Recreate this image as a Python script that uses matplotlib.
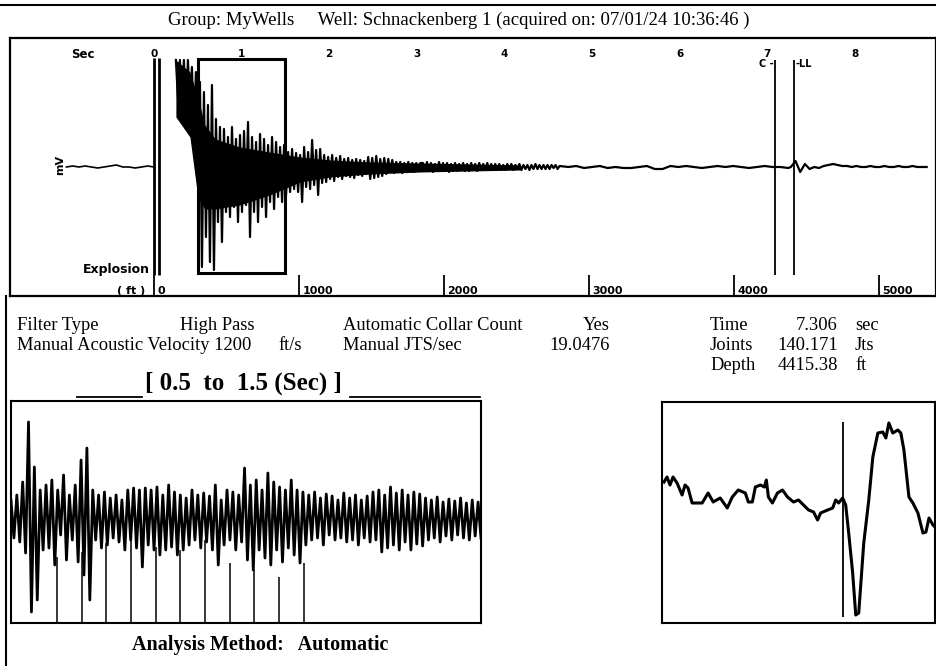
import numpy as np
import matplotlib
matplotlib.use("Agg")
import matplotlib.pyplot as plt
from matplotlib.patches import Rectangle

W, H = 937, 666

# --- shot record (time in sec, amplitude in display units) ---
pre_span = (-1.0, 0.0)
pre_amp = [0, 1, 0, 1, 0, -1, 0, 1, 2, 0, 0, -1, 0, 1, 0]

burst_span = (0.25, 3.04)
burst_amp = [
    107, 70, 107, 62, 107, 48, 107, 55, 100, 28,
    95, 20, 85, -100, 75, -70, 62, -95, 82, -103,
    48, -55, 40, -75, 38, -45, 30, -50, 40, -40,
    28, -55, 32, -45, 36, -38, 45, -70, 30, -45,
    25, -55, 33, -40, 28, -50, 22, -35, 30, -42,
    25, -30, 20, -35, 22, -28, 15, -25, 18, -22,
    14, -25, 12, -35, 20, -20, 15, -22, 27, -18,
    17, -28, 18, -16, 12, -15, 10, -12, 12, -14,
    9, -10, 11, -12, 8, -9, 9, -10, 7, -11,
    8, -8, 7, -9, 6, -7, 10, -12, 9, -11,
    11, -10, 8, -9, 9, -7, 8, -5, 7, -6,
    5, -5, 5, -6, 4, -5, 5, -4, 4, -5,
    4, -4, 4,
]
tail_span = (3.07, 4.63)
tail_amp = [
    4, -4, 5, -3, 4, -5, 3, -4, 5, -4, 4, -3, 4, -5, 3, -4, 4, -4, 3, -3,
    4, -4, 3, -4, 4, -3, 3, -4, 4, -3, 3, -3, 4, -3, 3, -3, 3, -2, 3, -3,
    2, -3, 3, -2, 3, -3, 2, -2, 3, -3, 2, -2, 2, -3, 2, -2, 3, -2, 2, -2,
    2, -2, 2, -2, 2, -1, 2, -2, 1,
]
quiet_span = (4.73, 7.24)
quiet_amp = [0, 1, -1, 0, 1, -1, 0, -1, -1, 0, 1, -2, -2, 1, 0, 1, 0, -1,
             0, 1, 0, 1, 0, -1, 0, 1, 0, 0, -1]
end_span = (7.27, 8.82)
end_amp = [0, 6, -5, 3, -2, 0, -1, 1, 2, 3, 2, 1, 1, 0, 1, 0, 0, 1, 0, 0,
           1, 0, 0, 1, 0, 0, 1, 0, 0, 0]

# dense (solid ink) part of the burst: time, upper and lower edge
core_t = [0.25, 0.41, 0.50, 0.58, 0.70, 0.98, 1.32, 1.67, 2.01, 2.47, 3.04, 3.61, 4.18]
core_hi = [107, 95, 70, 42, 28, 20, 15, 10, 7, 5, 4, 3, 2]
core_lo = [50, 30, -30, -42, -42, -38, -28, -15, -10, -7, -5, -4, -3]

sec_ticks = [0, 1, 2, 3, 4, 5, 6, 7, 8]
ft_ticks = [0, 1000, 2000, 3000, 4000, 5000]
explosion_lines = [0.0, 0.055]
window = (0.5, 1.5)

# --- results ---
filter_type = "High Pass"
velocity = 1200
collar_count = "Yes"
jts_per_sec = 19.0476
ll_time = 7.306
collar_time = 7.09
joints = 140.171
depth = 4415.38
ft_per_sec = depth / ll_time

# --- zoom window 0.5 - 1.5 sec ---
zoom_amp = [
    20, -18, 25, -22, 38, -33,
    98, -92, 53, -80,
    30, -30, 35, -28,
    40, -45, 30, -15, 45, -40, 25, -20, 35, -42, 60, -55, 72, -80,
    30, -20, 25, -28, 28, -25, 22, -18, 25, -22, 20, -30,
    30, -20, 32, -28, 30, -47, 32, -25, 30, -30,
    33, -35, 25, -30, 35, -27, 28, -35, 25, -30,
    22, -25, 30, -20, 25, -28, 27, -22, 24, -30,
    35, -45, 20, -25, 30, -20, 28, -30, 25, -22,
    52, -40, 35, -50, 40, -30, 30, -38, 47, -45,
    38, -30, 33, -42, 30, -28, 40, -35, 30, -43, 28, -25,
    25, -20, 28, -18, 22, -25, 26, -15, 24, -20, 20, -18,
    27, -22, 22, -20, 25, -25, 20, -18, 24, -22, 28, -20,
    30, -32, 25, -28, 33, -25, 27, -30, 30, -22, 25, -30, 28, -24, 26, -26,
    22, -20, 20, -18, 23, -22, 18, -16, 21, -20, 19, -15, 22, -18, 17, -20,
    20, -16, 18, -18,
]
collar_t = [0.598, 0.650, 0.703, 0.755, 0.808, 0.860, 0.913, 0.965, 1.018, 1.070, 1.123]
collar_top = [-37, -32, -23, -13, -27, -30, -20, -43, -50, -57, -43]

# --- liquid level close-up ---
ll_t = [7.1023, 7.1057, 7.1091, 7.1125, 7.1171, 7.1228, 7.1262, 7.1296, 7.1342, 7.1456,
        7.1524, 7.1581, 7.1661, 7.1741, 7.1798, 7.1866, 7.1946, 7.1980, 7.2026, 7.2060,
        7.2117, 7.2162, 7.2185, 7.2208, 7.2254, 7.2311, 7.2368, 7.2425, 7.2493, 7.2550,
        7.2607, 7.2664, 7.2721, 7.2767, 7.2801, 7.2881, 7.2938, 7.2972, 7.3006, 7.3051,
        7.3086, 7.3120, 7.3165, 7.3200, 7.3234, 7.3291, 7.3348, 7.3394, 7.3451, 7.3507,
        7.3542, 7.3576, 7.3621, 7.3678, 7.3712, 7.3747, 7.3804, 7.3849, 7.3906, 7.3963,
        7.3997, 7.4032, 7.4077, 7.4100]
ll_amp = [30, 35, 27, 35, 29, 17, 27, 24, 9, 9,
          19, 10, 14, 4, 15, 22, 19, 10, 10, 25,
          27, 25, 32, 15, 9, 19, 22, 15, 10, 12,
          7, 2, 0, -8, -1, 2, 4, 12, 9, 14,
          7, -21, -61, -103, -101, -31, 12, 55, 79, 80,
          74, 89, 79, 82, 79, 62, 15, 9, -1, -21,
          -20, -6, -13, -15]


def box(x0, y0, x1, y1):
    return [x0 / W, 1 - y1 / H, (x1 - x0) / W, (y1 - y0) / H]


def clean(ax, lw=1.5):
    ax.set_xticks([])
    ax.set_yticks([])
    for s in ax.spines.values():
        s.set_linewidth(lw)
        s.set_color("black")


serif = "Liberation Serif"
sans = "DejaVu Sans"

fig = plt.figure(figsize=(W / 100, H / 100), dpi=100)

# background in pixel coordinates for the page furniture
bg = fig.add_axes([0, 0, 1, 1])
bg.set_xlim(0, W)
bg.set_ylim(H, 0)
bg.axis("off")
bg.plot([0, W], [5, 5], color="black", lw=1.5)
bg.plot([6, 6], [296, H], color="black", lw=1.5)
bg.text(459, 20, "Group: MyWells     Well: Schnackenberg 1 (acquired on: 07/01/24 10:36:46 )",
        ha="center", va="center", family=serif, size=13.5)

rows = [
    [(17, "Filter Type", "left"), (180, filter_type, "left"),
     (343, "Automatic Collar Count", "left"), (610, collar_count, "right"),
     (710, "Time", "left"), (838, f"{ll_time:.3f}", "right"), (855, "sec", "left")],
    [(17, f"Manual Acoustic Velocity {velocity}", "left"), (278, "ft/s", "left"),
     (343, "Manual JTS/sec", "left"), (610, f"{jts_per_sec}", "right"),
     (710, "Joints", "left"), (838, f"{joints}", "right"), (855, "Jts", "left")],
    [(710, "Depth", "left"), (838, f"{depth}", "right"), (855, "ft", "left")],
]
for y, row in zip([325, 346, 366], rows):
    for x, s, ha in row:
        bg.text(x, y, s, ha=ha, va="center", family=serif, size=13.3)

bg.text(243, 383, f"[ {window[0]}  to  {window[1]} (Sec) ]", ha="center", va="center",
        family=serif, weight="bold", size=18)
bg.plot([77, 142], [397, 397], color="black", lw=1.3)
bg.plot([350, 480], [397, 397], color="black", lw=1.3)
bg.text(260, 645, "Analysis Method:   Automatic", ha="center", va="center",
        family=serif, weight="bold", size=14.5)

# --- main record ---
ax = fig.add_axes(box(10, 38, 936, 296))
clean(ax, 1.6)
px_per_sec = 87.6
ax.set_xlim((10 - 154) / px_per_sec, (936 - 154) / px_per_sec)
ax.set_ylim(-129, 129)

t0 = np.linspace(pre_span[0], pre_span[1], len(pre_amp))
ax.plot(t0, pre_amp, color="black", lw=1.2)
t_all, a_all = [], []
for span, amp in [(burst_span, burst_amp), (tail_span, tail_amp),
                  (quiet_span, quiet_amp), (end_span, end_amp)]:
    t_all.extend(np.linspace(span[0], span[1], len(amp)))
    a_all.extend(amp)
ax.fill_between(core_t, core_lo, core_hi, color="black", lw=0)
ax.plot(t_all, a_all, color="black", lw=1.6)

ax.vlines(explosion_lines, -108, 109, color="black", lw=2)
ax.add_patch(Rectangle((window[0], -106), window[1] - window[0], 214,
                       fill=False, lw=2.2, edgecolor="black"))
ax.vlines([collar_time, ll_time], -108, 107, color="black", lw=1.3)
ax.text(collar_time - 0.02, 103, "C -", ha="right", va="center", family=sans,
        weight="bold", size=7)
ax.text(ll_time + 0.02, 103, "-LL", ha="left", va="center", family=sans,
        weight="bold", size=7)

for s in sec_ticks:
    ax.text(s, 113, str(s), ha="center", va="center", family=sans, weight="bold", size=7.5)
ax.text(-0.81, 113, "Sec", ha="center", va="center", family=sans, weight="bold", size=8.5)
ax.text(-0.05, -103, "Explosion", ha="right", va="center", family=sans, weight="bold", size=9)
ax.text(-0.1, -124, "( ft )", ha="right", va="center", family=sans, weight="bold", size=8)
ax.text(-1.07, 2, "mV", ha="center", va="center", rotation=90, family=sans,
        weight="bold", size=8)

ft_pos = [f / ft_per_sec for f in ft_ticks]
ax.vlines(ft_pos, -129, -108, color="black", lw=1.3)
for p, f in zip(ft_pos, ft_ticks):
    ax.text(p + 0.04, -124, str(f), ha="left", va="center", family=sans,
            weight="bold", size=8)

# --- zoom window ---
az = fig.add_axes(box(11, 401, 481, 623))
clean(az, 1.5)
az.set_xlim(window[0], window[1])
az.set_ylim(-103, 119)
tz = np.linspace(window[0], window[1], len(zoom_amp))
az.plot(tz, zoom_amp, color="black", lw=2.0)
az.vlines(collar_t, -103, collar_top, color="black", lw=1.1)

# --- liquid level close-up ---
al = fig.add_axes(box(662, 402, 935, 623))
clean(al, 1.5)
al.set_xlim(7.1, 7.41)
al.set_ylim(-111, 110)
al.plot(ll_t, ll_amp, color="black", lw=2.2)
al.vlines([ll_time], -105, 90, color="black", lw=1.3)

fig.savefig("out.png", dpi=100)
